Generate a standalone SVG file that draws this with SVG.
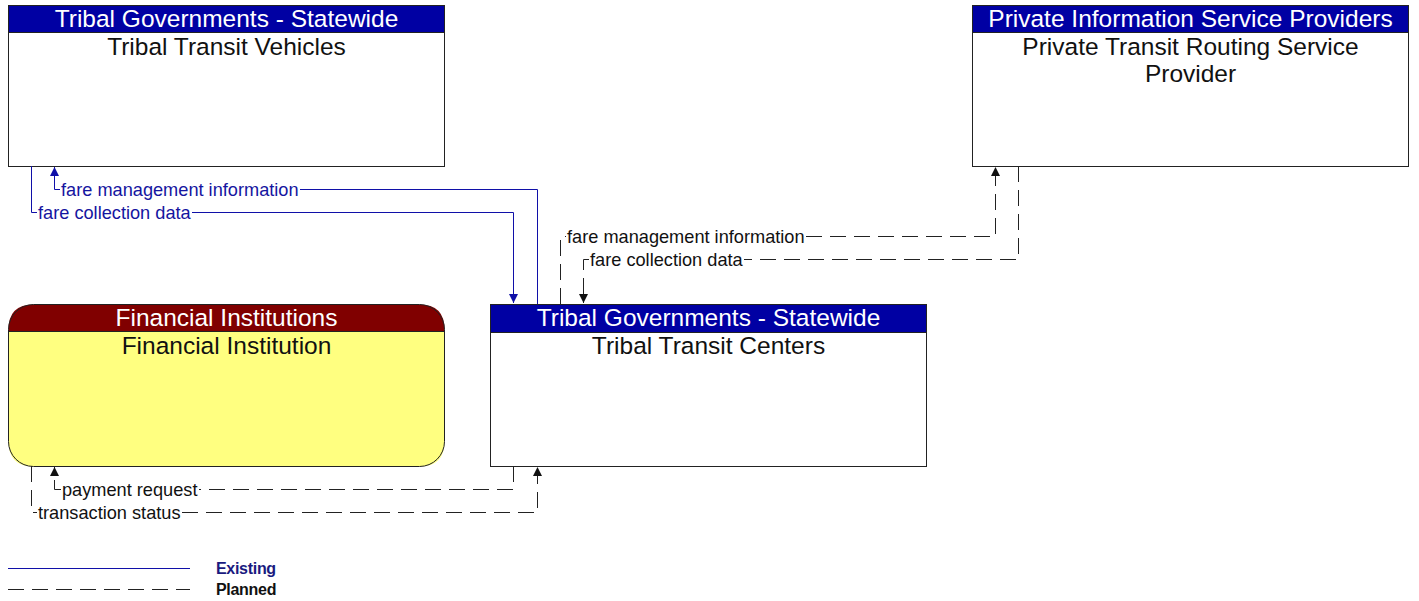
<svg xmlns="http://www.w3.org/2000/svg" width="1419" height="601" viewBox="0 0 1419 601">
<style>
.box{fill:#fff;stroke:#222;stroke-width:1}
.hdr{fill:#0000A3}
.ht{font-family:"Liberation Sans",Arial,sans-serif;font-size:24.5px;fill:#fff;text-anchor:middle}
.bt{font-family:"Liberation Sans",Arial,sans-serif;font-size:24.5px;fill:#111;text-anchor:middle}
.ex{fill:none;stroke:#1010A8;stroke-width:1}
.pl{fill:none;stroke:#222;stroke-width:1;stroke-dasharray:16 8}
.lbe{font-family:"Liberation Sans",Arial,sans-serif;font-size:18.2px;fill:#1515A0}
.lbp{font-family:"Liberation Sans",Arial,sans-serif;font-size:18.2px;fill:#111}
.lg{font-family:"Liberation Sans",Arial,sans-serif;font-size:16px;font-weight:bold;letter-spacing:-0.3px}
</style>
<defs>
<marker id="ab" markerWidth="10" markerHeight="10" refX="9" refY="5" orient="auto" markerUnits="userSpaceOnUse">
<path d="M0,0.5 L9,5 L0,9.5 z" fill="#1010A8"/>
</marker>
<marker id="ak" markerWidth="10" markerHeight="10" refX="9" refY="5" orient="auto" markerUnits="userSpaceOnUse">
<path d="M0,0.5 L9,5 L0,9.5 z" fill="#111"/>
</marker>
</defs>

<g id="node-tribal-transit-vehicles">
<rect class="box" x="8.5" y="5.5" width="436" height="161"/>
<rect class="hdr" x="9" y="6" width="435" height="26"/>
<line x1="8.5" y1="32.5" x2="444.5" y2="32.5" stroke="#222"/>
<text class="ht" x="226.5" y="27">Tribal Governments - Statewide</text>
<text class="bt" x="226.5" y="55">Tribal Transit Vehicles</text>
</g>

<g id="node-private-transit-routing">
<rect class="box" x="972.5" y="5.5" width="436" height="161"/>
<rect class="hdr" x="973" y="6" width="435" height="26"/>
<line x1="972.5" y1="32.5" x2="1408.5" y2="32.5" stroke="#222"/>
<text class="ht" x="1190.5" y="27">Private Information Service Providers</text>
<text class="bt" x="1190.5" y="55">Private Transit Routing Service</text>
<text class="bt" x="1190.5" y="82">Provider</text>
</g>

<g id="node-financial-institution">
<path d="M8.5,331.5 V329.5 Q8.5,304.5 33.5,304.5 H419.5 Q444.5,304.5 444.5,329.5 V331.5 Z" fill="#800000"/>
<path d="M8.5,331.5 H444.5 V441.5 Q444.5,466.5 419.5,466.5 H33.5 Q8.5,466.5 8.5,441.5 Z" fill="#FFFF80"/>
<rect x="8.5" y="304.5" width="436" height="162" rx="25" ry="25" fill="none" stroke="#222"/>
<line x1="8.5" y1="331.5" x2="444.5" y2="331.5" stroke="#222"/>
<text class="ht" x="226.5" y="326">Financial Institutions</text>
<text class="bt" x="226.5" y="354">Financial Institution</text>
</g>

<g id="node-tribal-transit-centers">
<rect class="box" x="490.5" y="304.5" width="436" height="162"/>
<rect class="hdr" x="491" y="305" width="435" height="27"/>
<line x1="490.5" y1="332.5" x2="926.5" y2="332.5" stroke="#222"/>
<text class="ht" x="708.5" y="326">Tribal Governments - Statewide</text>
<text class="bt" x="708.5" y="354">Tribal Transit Centers</text>
</g>

<g id="connectors">
<!-- fare management information: centers -> vehicles (existing) -->
<path class="ex" d="M537.5,304 V189.5 H300"/>
<path class="ex" d="M60,189.5 H54.5 V167" marker-end="url(#ab)"/>
<text class="lbe" x="61" y="196">fare management information</text>
<!-- fare collection data: vehicles -> centers (existing) -->
<path class="ex" d="M31.5,166 V212.5 H37"/>
<path class="ex" d="M192,212.5 H513.5 V303" marker-end="url(#ab)"/>
<text class="lbe" x="38" y="219">fare collection data</text>
<!-- fare management information: centers -> private (planned) -->
<path class="pl" d="M560.5,304 V236.5 H566"/>
<path class="pl" d="M806,236.5 H995.5 V167" marker-end="url(#ak)"/>
<text class="lbp" x="567" y="243">fare management information</text>
<!-- fare collection data: private -> centers (planned) -->
<path class="pl" d="M1018.5,166 V259.5 H744"/>
<path class="pl" d="M589,259.5 H583.5 V303" marker-end="url(#ak)"/>
<text class="lbp" x="590" y="266">fare collection data</text>
<!-- payment request: centers -> financial (planned) -->
<path class="pl" d="M513.5,466 V489.5 H199"/>
<path class="pl" d="M61,489.5 H54.5 V467" marker-end="url(#ak)"/>
<text class="lbp" x="62" y="496">payment request</text>
<!-- transaction status: financial -> centers (planned) -->
<path class="pl" d="M31.5,466 V512.5 H37"/>
<path class="pl" d="M182,512.5 H537.5 V467" marker-end="url(#ak)"/>
<text class="lbp" x="38" y="519">transaction status</text>
</g>

<g id="legend">
<line x1="8" y1="568.5" x2="190" y2="568.5" stroke="#1010A8" stroke-width="1"/>
<line x1="8" y1="589.5" x2="190" y2="589.5" stroke="#222" stroke-width="1" stroke-dasharray="16 8"/>
<text class="lg" x="216" y="574" fill="#1A1A80">Existing</text>
<text class="lg" x="216" y="595" fill="#111">Planned</text>
</g>
</svg>
